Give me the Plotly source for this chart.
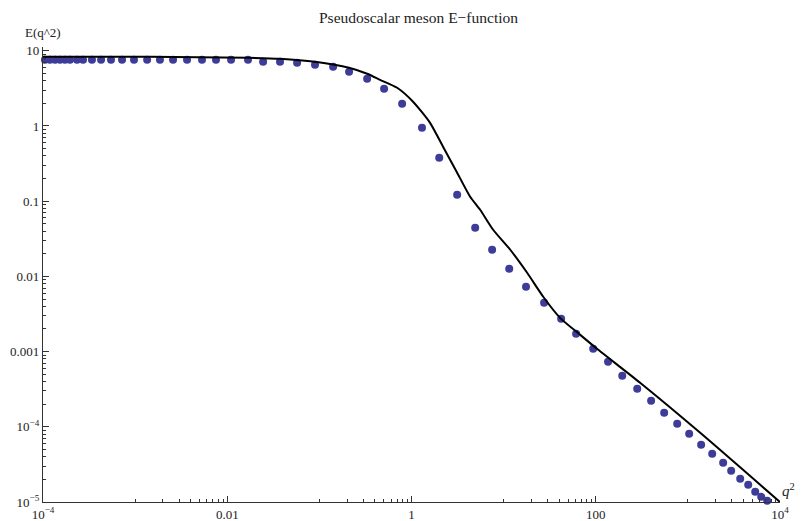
import plotly.graph_objects as go

# Data
dot_q = [1.05e-4, 1.19e-4, 1.35e-4, 1.53e-4, 1.73e-4, 1.96e-4, 2.34e-4, 2.72e-4, 3.40e-4, 4.27e-4,
         5.47e-4, 7.21e-4, 9.72e-4, 1.35e-3, 1.86e-3, 2.58e-3, 3.66e-3, 5.32e-3, 7.55e-3, 0.0110,
         0.0168, 0.0245, 0.0374, 0.0573, 0.0897, 0.141, 0.210, 0.330, 0.504, 0.791,
         1.30, 2.00, 3.13, 4.91, 7.50, 11.5, 17.5, 27.5, 42.1, 61.2,
         93.8, 136, 194, 282, 399, 553, 766, 1033, 1393, 1837,
         2415, 2951, 3698, 4519, 5383, 6252, 7261]
dot_E = [7.59, 7.59, 7.59, 7.59, 7.59, 7.59, 7.59, 7.59, 7.59, 7.59,
         7.59, 7.59, 7.59, 7.59, 7.59, 7.59, 7.59, 7.59, 7.59, 7.59,
         7.59, 7.14, 7.14, 6.92, 6.51, 6.12, 5.26, 4.25, 3.13, 1.97,
         0.946, 0.378, 0.1216, 0.0443, 0.0226, 0.0126, 0.00727, 0.00446, 0.00273, 0.00173,
         0.00109, 7.31e-4, 4.76e-4, 3.20e-4, 2.22e-4, 1.54e-4, 1.10e-4, 8.07e-5, 5.77e-5, 4.38e-5,
         3.32e-5, 2.60e-5, 2.04e-5, 1.69e-5, 1.37e-5, 1.17e-5, 1.04e-5]

curve_q = [1e-4, 1.45e-3, 0.0168, 0.0374, 0.0897, 0.210, 0.330, 0.456, 0.698, 1.04,
           1.59, 2.20, 3.13, 4.33, 5.56, 7.69, 11.8, 18.0, 26.9, 41.0,
           67.8, 104, 303, 1361, 10000]
curve_E = [8.32, 8.32, 8.07, 7.83, 7.14, 5.95, 4.94, 4.11, 3.22, 2.10,
           1.10, 0.529, 0.239, 0.1145, 0.0769, 0.0417, 0.0226, 0.01117, 0.00536, 0.00281,
           0.00167, 0.00108, 3.85e-4, 8.32e-5, 1.0e-5]

x_tickvals = [1e-4, 1e-2, 1, 1e2, 1e4]
x_ticktext = ["10<sup>\u22124</sup>", "0.01", "1", "100", "10<sup>4</sup>"]
y_tickvals = [1e-5, 1e-4, 1e-3, 1e-2, 1e-1, 1, 10]
y_ticktext = ["10<sup>\u22125</sup>", "10<sup>\u22124</sup>", "0.001", "0.01", "0.1", "1", "10"]

title_text = "Pseudoscalar meson E\u2212function"
x_label = "<i>q</i><sup>2</sup>"
y_label = "E(q^2)"

# minor tick positions
x_minor = []
for dec in [-3, -1, 1, 3]:
    for m in range(1, 10):
        x_minor.append(m * 10.0 ** dec)
y_minor = []
for dec in range(-5, 1):
    for m in range(2, 10):
        y_minor.append(m * 10.0 ** dec)

font_family = "Liberation Serif, Times New Roman, serif"
dot_color = "#3d3d99"

fig = go.Figure()
fig.add_trace(go.Scatter(x=dot_q, y=dot_E, mode="markers",
                         marker=dict(color=dot_color, size=8, line=dict(width=0)),
                         cliponaxis=False, showlegend=False))
fig.add_trace(go.Scatter(x=curve_q, y=curve_E, mode="lines",
                         line=dict(color="black", width=2, shape="spline", smoothing=0.6),
                         cliponaxis=False, showlegend=False))

# The page body adds an 8px margin, so the figure is 8px smaller on each axis
fig.update_layout(
    width=797, height=513,
    margin=dict(l=35, r=25, t=39, b=19),
    paper_bgcolor="white", plot_bgcolor="white",
    font=dict(family=font_family, size=13, color="#222"),
    showlegend=False,
    annotations=[
        dict(text=title_text, xref="paper", yref="paper", x=0.51, y=1, yshift=30,
             xanchor="center", yanchor="middle", showarrow=False,
             font=dict(family=font_family, size=15.5, color="#222")),
        dict(text=y_label, xref="paper", yref="paper", x=0, y=1, yshift=15,
             xanchor="center", yanchor="middle", showarrow=False,
             font=dict(family=font_family, size=13, color="#222")),
        dict(text=x_label, xref="paper", yref="paper", x=1, y=0, xshift=0, yshift=1,
             xanchor="left", yanchor="bottom", showarrow=False,
             font=dict(family=font_family, size=15, color="#222")),
    ],
)

fig.update_xaxes(type="log", range=[-4, 4], showgrid=False, zeroline=False, automargin=False,
                 showline=True, linecolor="#333", linewidth=1.3,
                 tickmode="array", tickvals=x_tickvals, ticktext=x_ticktext,
                 ticks="inside", ticklen=6, tickcolor="#333", tickwidth=1,
                 minor=dict(tickmode="array", tickvals=x_minor, ticks="inside",
                            ticklen=3, tickcolor="#333", showgrid=False),
                 tickfont=dict(family=font_family, size=13, color="#222"))
fig.update_yaxes(type="log", range=[-5, 1.05], showgrid=False, zeroline=False, automargin=False,
                 showline=True, linecolor="#333", linewidth=1.3,
                 tickmode="array", tickvals=y_tickvals, ticktext=y_ticktext,
                 ticks="inside", ticklen=6, tickcolor="#333", tickwidth=1,
                 minor=dict(tickmode="array", tickvals=y_minor, ticks="inside",
                            ticklen=3, tickcolor="#333", showgrid=False),
                 tickfont=dict(family=font_family, size=13, color="#222"))

fig.write_html("out.html")
